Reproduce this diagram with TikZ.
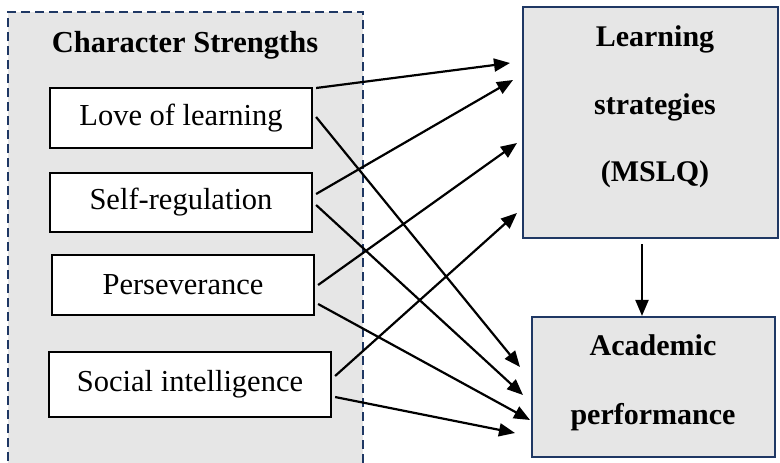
\documentclass[tikz,border=0pt]{standalone}
\usepackage{fontspec}
\setmainfont{Liberation Serif}
\usetikzlibrary{arrows.meta}
\definecolor{navy}{RGB}{31,56,100}
\definecolor{boxgray}{RGB}{230,230,230}

\begin{document}
\begin{tikzpicture}[x=1pt,y=-1pt,
  txt/.style={font=\fontsize{30.5}{36}\selectfont},
  strength/.style={txt,draw,line width=2.2pt,fill=white,minimum width=#1,minimum height=60pt,inner sep=0pt},
  outcome/.style 2 args={draw=navy,line width=2.2pt,fill=boxgray,minimum width=#1,minimum height=#2,inner sep=0pt},
  arr/.style={line width=2.2pt,-{Triangle[length=16pt,width=13pt]}}]
\useasboundingbox (0,0) rectangle (780,463);
% character strengths panel
\fill[boxgray] (8,12) rectangle (363,475);
\draw[navy,line width=2pt,dash pattern=on 9pt off 5pt] (8,475) -- (8,12) -- (363,12) -- (363,475);
\node[txt] (cstitle) at (185,45) {\textbf{Character Strengths}};
\node[strength=262pt] (love) at (181,118) {Love of learning};
\node[strength=262pt,minimum height=59pt] (self) at (181,202.5) {Self-regulation};
\node[strength=262pt] (pers) at (183,285) {Perseverance};
\node[strength=282pt,minimum height=65pt] (social) at (190,384.5) {Social intelligence};
% outcomes
\node[outcome={255pt}{231pt}] (ls) at (650.5,122.5) {};
\node[txt,font=\fontsize{30}{67.5}\selectfont\bfseries,align=center] (lstext) at (655,107) {Learning\\strategies\\(MSLQ)};
\node[outcome={243pt}{140pt}] (ap) at (653.5,387) {};
\node[txt,font=\fontsize{30}{69}\selectfont\bfseries,align=center] (aptext) at (653,383) {Academic\\performance};
% arrow ends
\coordinate (la) at (510,63);
\coordinate (lb) at (513,80);
\coordinate (lc) at (517,143);
\coordinate (ld) at (517,213);
\coordinate (pa) at (520,367);
\coordinate (pb) at (523,395);
\coordinate (pc) at (530,420);
\coordinate (pd) at (515,433);
\foreach \s/\dy/\t in {love/30/la,love/1/pa,self/8.5/lb,self/-2.5/pb,pers/0/lc,pers/-19/pc,social/8.5/ld,social/-12.5/pd}
  \draw[arr] ([xshift=3pt,yshift=\dy pt]\s.east) -- (\t);
\draw[arr] ([xshift=-8.5pt,yshift=-5pt]ls.south) -- ([xshift=-11.5pt]ap.north);
\end{tikzpicture}
\end{document}
